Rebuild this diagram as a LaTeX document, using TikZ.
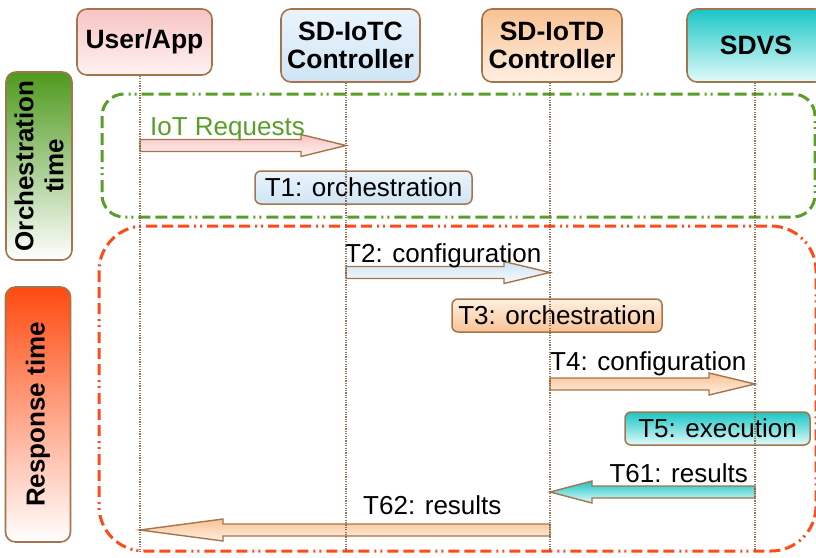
\documentclass[tikz,border=0pt]{standalone}
\usepackage{fontspec}
\setmainfont{Liberation Sans}
\usetikzlibrary{calc}

\definecolor{edge}{HTML}{A4744C}
\definecolor{life}{HTML}{8A5A3A}
\definecolor{orchgreen}{HTML}{5A9E2A}
\definecolor{respred}{HTML}{FF4A1A}
\definecolor{pinktop}{HTML}{F7C4C4}
\definecolor{pinkbot}{HTML}{FFF2F2}
\definecolor{bluetop}{HTML}{EAF4FC}
\definecolor{bluebot}{HTML}{CFE5F5}
\definecolor{orangetop}{HTML}{F9C293}
\definecolor{orangebot}{HTML}{FFF0E2}
\definecolor{cyantop}{HTML}{1BC6C6}
\definecolor{cyanbot}{HTML}{E2FAFA}
\definecolor{greentop}{HTML}{4E9A1E}
\definecolor{redtop}{HTML}{FF4A10}

% block arrow: style, start, tip, head length
\newcommand\blockarrow[4]{%
  \draw[#1] let \p1=(#2), \p2=(#3), \n1={sign(\x2-\x1)} in
    (\x1,\y1+6pt) -- (\x2-\n1*#4,\y1+6pt) -- (\x2-\n1*#4,\y1+11pt) --
    (\x2,\y1) -- (\x2-\n1*#4,\y1-11pt) -- (\x2-\n1*#4,\y1-6pt) --
    (\x1,\y1-6pt) -- cycle;}

\begin{document}
\begin{tikzpicture}[x=1pt,y=-1pt,
  big/.style={font=\fontsize{26pt}{28pt}\selectfont},
  actor/.style={draw=edge, line width=1.6pt, rounded corners=10pt, inner sep=0pt,
    align=center, font=\fontsize{26.5pt}{28pt}\selectfont\bfseries},
  phasebox/.style={draw=edge, line width=1.6pt, rounded corners=10pt, inner sep=0pt},
  phasetext/.style={inner sep=0pt, align=center, rotate=90,
    font=\fontsize{26pt}{30pt}\selectfont\bfseries},
  step box/.style={draw=edge, line width=1.5pt, rounded corners=6pt, inner sep=0pt,
    minimum height=33pt, big},
  msg/.style={big, inner sep=0pt},
  arr/.style={draw=edge, line width=1.4pt, line join=miter},
  lifeline/.style={life, line width=1.8pt, dash pattern=on 1.2pt off 1.2pt, opacity=0.85},
  orchframe/.style={orchgreen, line width=3pt,
    dash pattern=on 12pt off 5pt on 12pt off 5pt on 12pt off 5pt on 2pt off 4pt on 2pt off 5pt},
  respframe/.style={respred, line width=3pt,
    dash pattern=on 11pt off 5pt on 11pt off 5pt on 11pt off 5pt on 2pt off 4pt on 2pt off 5pt}
]
\useasboundingbox (0,0) rectangle (816,557);
\clip (0,0) rectangle (816,557);

% participants
\node[actor, top color=pinktop, bottom color=pinkbot, minimum width=135pt, minimum height=66pt]
  (user) at (144.5,42) {User/App};
\node[actor, top color=bluetop, bottom color=bluebot, minimum width=139pt, minimum height=73pt]
  (iotc) at (350.5,45.5) {SD-IoTC\\Controller};
\node[actor, top color=orangetop, bottom color=orangebot, minimum width=140pt, minimum height=73pt]
  (iotd) at (552,45.5) {SD-IoTD\\Controller};
\node[actor, top color=cyantop, bottom color=cyanbot, minimum width=138pt, minimum height=73pt]
  (sdvs) at (756,45.5) {SDVS};

% phase labels
\node[phasebox, top color=greentop, bottom color=white, minimum width=66pt, minimum height=188pt]
  (orch) at (39,166) {};
\node[phasetext] (orchtxt) at (orch.center) {Orchestration\\time};
\node[phasebox, top color=redtop, bottom color=white, minimum width=65pt, minimum height=255pt]
  (resp) at (38,414.5) {};
\node[phasetext] (resptxt) at (resp.center) {Response time};

% phase frames
\draw[orchframe, rounded corners=22pt] (102,94) rectangle (815,217);
\draw[respframe, rounded corners=45pt] (99,226) rectangle (816,551);

% lifeline anchors
\coordinate (uL) at (140,553);
\coordinate (cL) at (346,553);
\coordinate (dL) at (550,553);
\coordinate (sL) at (755,553);

% message end points
\coordinate (iotA) at (140,145.5);  \coordinate (iotB) at (346,145.5);
\coordinate (t2A)  at (346,272.5);  \coordinate (t2B)  at (550,272.5);
\coordinate (t4A)  at (550,384);    \coordinate (t4B)  at (755,384);
\coordinate (t61A) at (755,492);    \coordinate (t61B) at (550,492);
\coordinate (t62A) at (550,530);    \coordinate (t62B) at (140,530);

% messages
\blockarrow{arr, top color=pinktop, bottom color=pinkbot}{iotA}{iotB}{45pt}
\node[msg, anchor=base west, text=orchgreen] (iotlbl) at (150,135) {IoT Requests};

\node[step box, top color=bluetop, bottom color=bluebot, minimum width=217pt]
  (t1) at (363.5,187.5) {T1: orchestration};

\blockarrow{arr, top color=bluebot, bottom color=bluetop!40}{t2A}{t2B}{46pt}
\node[msg, anchor=base west] (t2lbl) at (345,262) {T2: configuration};

\node[step box, top color=orangebot, bottom color=orangetop, minimum width=210pt]
  (t3) at (557,315.5) {T3: orchestration};

\blockarrow{arr, top color=orangetop, bottom color=orangebot}{t4A}{t4B}{46pt}
\node[msg, anchor=base west] (t4lbl) at (550,370) {T4: configuration};

\node[step box, top color=cyantop, bottom color=cyanbot, minimum width=185pt]
  (t5) at (717.5,428.5) {T5: execution};

\blockarrow{arr, top color=cyantop, bottom color=cyanbot}{t61A}{t61B}{42pt}
\node[msg, anchor=base east] (t61lbl) at (748,482) {T61: results};

\blockarrow{arr, top color=orangetop, bottom color=orangebot}{t62A}{t62B}{83pt}
\node[msg, anchor=base west] (t62lbl) at (363,514) {T62: results};

% lifelines
\draw[lifeline] (user.south -| uL) -- (uL);
\draw[lifeline] (iotc.south -| cL) -- (cL);
\draw[lifeline] (iotd.south -| dL) -- (dL);
\draw[lifeline] (sdvs.south -| sL) -- (sL);
\end{tikzpicture}
\end{document}
